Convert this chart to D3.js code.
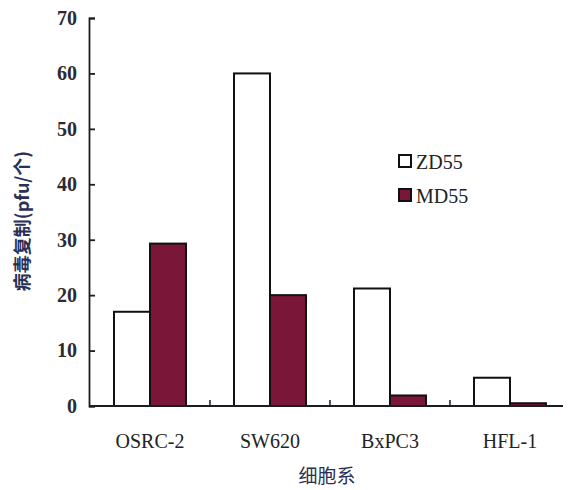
<!DOCTYPE html>
<html>
<head>
<meta charset="utf-8">
<script src="https://cdn.jsdelivr.net/npm/d3@7"></script>
<style>
  html, body { margin: 0; padding: 0; background: #fff; }
  svg { display: block; }
</style>
</head>
<body>
<div id="chart"></div>
<script>
const categories = ["OSRC-2", "SW620", "BxPC3", "HFL-1"];
const seriesNames = ["ZD55", "MD55"];
const zd55 = [17, 60, 21.2, 5.1];
const md55 = [29.3, 20, 1.9, 0.5];
const yTicks = [0, 10, 20, 30, 40, 50, 60, 70];
const yTitle = "病毒复制(pfu/个)";
const xTitle = "细胞系";
const colors = ["#ffffff", "#7a1637"];

const W = 568, H = 490;
const svg = d3.select("#chart").append("svg").attr("width", W).attr("height", H);

const x0 = d3.scaleBand().domain(categories).range([90, 570]).padding(0);
const x1 = d3.scaleBand().domain(seriesNames).range([0, x0.bandwidth()]).paddingInner(0).paddingOuter(0.667);
const y = d3.scaleLinear().domain([0, 70]).range([406, 18]);

const data = categories.map((c, i) => ({cat: c, vals: [zd55[i], md55[i]]}));

const ink = "#1c1c24";
const serif = "'Liberation Serif', 'Times New Roman', serif";

// bars
const g = svg.append("g");
data.forEach(d => {
  d.vals.forEach((v, j) => {
    g.append("rect")
      .attr("x", x0(d.cat) + x1(seriesNames[j]))
      .attr("y", y(v))
      .attr("width", x1.bandwidth())
      .attr("height", y(0) - y(v))
      .attr("fill", colors[j])
      .attr("stroke", "#111")
      .attr("stroke-width", 2);
  });
});

// y axis (ticks pointing inward)
const yAxis = svg.append("g")
  .attr("transform", `translate(89,0)`)
  .call(d3.axisLeft(y).tickValues(yTicks).tickSizeInner(-6).tickSizeOuter(-6).tickPadding(12));
yAxis.select(".domain").attr("stroke", ink).attr("stroke-width", 1.8);
yAxis.selectAll(".tick line").attr("stroke", ink).attr("stroke-width", 1.8);
yAxis.selectAll("text").attr("font-family", serif).attr("font-size", 20).attr("font-weight", "bold").attr("fill", "#2a2a33");

// x axis
const xAxis = svg.append("g").attr("transform", `translate(0,${y(0)})`);
xAxis.append("line").attr("x1", 89).attr("x2", 563).attr("y1", 0).attr("y2", 0)
  .attr("stroke", ink).attr("stroke-width", 1.8);
categories.slice(1).forEach(c => {
  xAxis.append("line").attr("x1", x0(c)).attr("x2", x0(c)).attr("y1", 0).attr("y2", -6)
    .attr("stroke", ink).attr("stroke-width", 1.5);
});
categories.forEach(c => {
  xAxis.append("text")
    .attr("x", x0(c) + x0.bandwidth() / 2)
    .attr("y", 42)
    .attr("text-anchor", "middle")
    .attr("font-family", serif)
    .attr("font-size", 20)
    .attr("fill", "#222")
    .text(c);
});

// axis titles
svg.append("text")
  .attr("transform", `translate(29,221) rotate(-90)`)
  .attr("text-anchor", "middle")
  .attr("font-family", "'Noto Sans CJK SC', sans-serif")
  .attr("font-size", 18)
  .attr("font-weight", "bold")
  .attr("fill", "#2a2f55")
  .text(yTitle);

svg.append("text")
  .attr("x", 327)
  .attr("y", 483)
  .attr("text-anchor", "middle")
  .attr("font-family", "'Noto Sans CJK SC', sans-serif")
  .attr("font-size", 19)
  .attr("fill", "#2a2f55")
  .text(xTitle);

// legend
const lg = svg.append("g").attr("transform", "translate(399,155)");
seriesNames.forEach((s, i) => {
  const row = lg.append("g").attr("transform", `translate(0,${i * 34})`);
  row.append("rect").attr("x", 0).attr("y", 0).attr("width", 12).attr("height", 12)
    .attr("fill", colors[i]).attr("stroke", "#111").attr("stroke-width", 2);
  row.append("text").attr("x", 17).attr("y", 13.5)
    .attr("font-family", serif).attr("font-size", 20).attr("fill", "#222").text(s);
});
</script>
</body>
</html>
